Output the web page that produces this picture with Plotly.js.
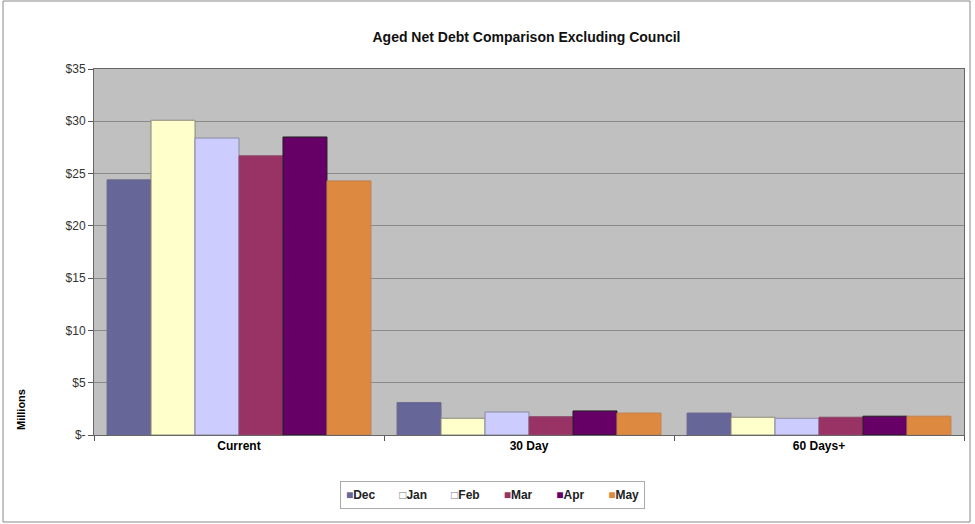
<!DOCTYPE html>
<html><head><meta charset="utf-8">
<script src="https://cdn.plot.ly/plotly-3.0.1.min.js"></script>
<style>html,body{margin:0;padding:0;background:#fff}#chart{width:975px;height:524px}</style>
</head><body><div id="chart"></div>
<script>
const categories = ["Current", "30 Day", "60 Days+"];
const months = ["Dec", "Jan", "Feb", "Mar", "Apr", "May"];
const Dec = [24.4, 3.1, 2.1];
const Jan = [30.1, 1.6, 1.7];
const Feb = [28.4, 2.2, 1.6];
const Mar = [26.7, 1.75, 1.7];
const Apr = [28.5, 2.3, 1.8];
const May = [24.3, 2.1, 1.8];
const seriesValues = [Dec, Jan, Feb, Mar, Apr, May];
const colors = ["#666699", "#FFFFCC", "#CCCCFF", "#993366", "#660066", "#DD8A40"];
const lineColors = ["#6a6a8a", "#8a8a7a", "#8a8aa0", "#8a4a66", "#222222", "#c08050"];
const swatchColors = ["#666699", "#777777", "#7777aa", "#993366", "#660066", "#DD8A40"];
const swatchGlyphs = ["■", "□", "□", "■", "■", "■"];
const yTickVals = [0, 5, 10, 15, 20, 25, 30, 35];
const yTickText = ["$-", "$5", "$10", "$15", "$20", "$25", "$30", "$35"];

const traces = months.map((m, i) => ({
  type: "bar", name: m, x: categories, y: seriesValues[i],
  marker: {color: colors[i], line: {color: lineColors[i], width: 1}},
  hoverinfo: "skip", showlegend: false
}));

const pxToPaperY = p => (435 - p) / 366;
const pxToPaperX = p => (p - 94) / 870;

const legendText = months.map((m, i) =>
  "<span style='color:" + swatchColors[i] + "'>" + swatchGlyphs[i] + "</span><b>" + m + "</b>"
).join("\u2002\u2002\u2002\u2002");

const layout = {
  width: 975, height: 524,
  margin: {l: 94, r: 11, t: 69, b: 89, pad: 0},
  paper_bgcolor: "#ffffff", plot_bgcolor: "#C0C0C0",
  font: {family: "Liberation Sans, Arial, sans-serif", size: 11, color: "#000"},
  title: {text: "<b>Aged Net Debt Comparison Excluding Council</b>", x: 0.54, xanchor: "center", y: 0.93, yanchor: "middle",
          font: {size: 14, family: "Liberation Sans, Arial, sans-serif", color: "#111"}},
  barmode: "group", bargap: 0.09, bargroupgap: 0,
  xaxis: {
    tickvals: categories, ticktext: categories.map(c => "<b>" + c + "</b>"),
    ticks: "outside", tickson: "boundaries", ticklen: 5, tickcolor: "#555",
    showline: true, linecolor: "#666", linewidth: 1, mirror: true,
    tickfont: {size: 12}, showgrid: false, fixedrange: true
  },
  yaxis: {
    range: [0, 35], tickvals: yTickVals, ticktext: yTickText,
    ticks: "outside", ticklen: 5, tickcolor: "#555",
    showline: true, linecolor: "#666", linewidth: 1, mirror: true,
    gridcolor: "#8a8a8a", gridwidth: 1, zeroline: false,
    tickfont: {size: 12, color: "#333"}, fixedrange: true
  },
  showlegend: false,
  annotations: [{
    text: "<b>Millions</b>", textangle: -90, xref: "paper", yref: "paper",
    x: pxToPaperX(21), y: pxToPaperY(410), xanchor: "center", yanchor: "middle",
    showarrow: false, font: {size: 11}
  }, {
    text: legendText, xref: "paper", yref: "paper",
    x: pxToPaperX(492), y: pxToPaperY(495), xanchor: "center", yanchor: "middle",
    width: 297, height: 20, align: "center",
    showarrow: false, font: {size: 12, color: "#222"},
    bordercolor: "#aaa", borderwidth: 1, borderpad: 3, bgcolor: "#fff"
  }],
  shapes: [{
    type: "rect", xref: "paper", yref: "paper",
    x0: pxToPaperX(3), x1: pxToPaperX(970), y0: pxToPaperY(522), y1: pxToPaperY(1),
    line: {color: "#888", width: 1}, layer: "below"
  }]
};
Plotly.newPlot("chart", traces, layout, {staticPlot: true});
</script></body></html>
